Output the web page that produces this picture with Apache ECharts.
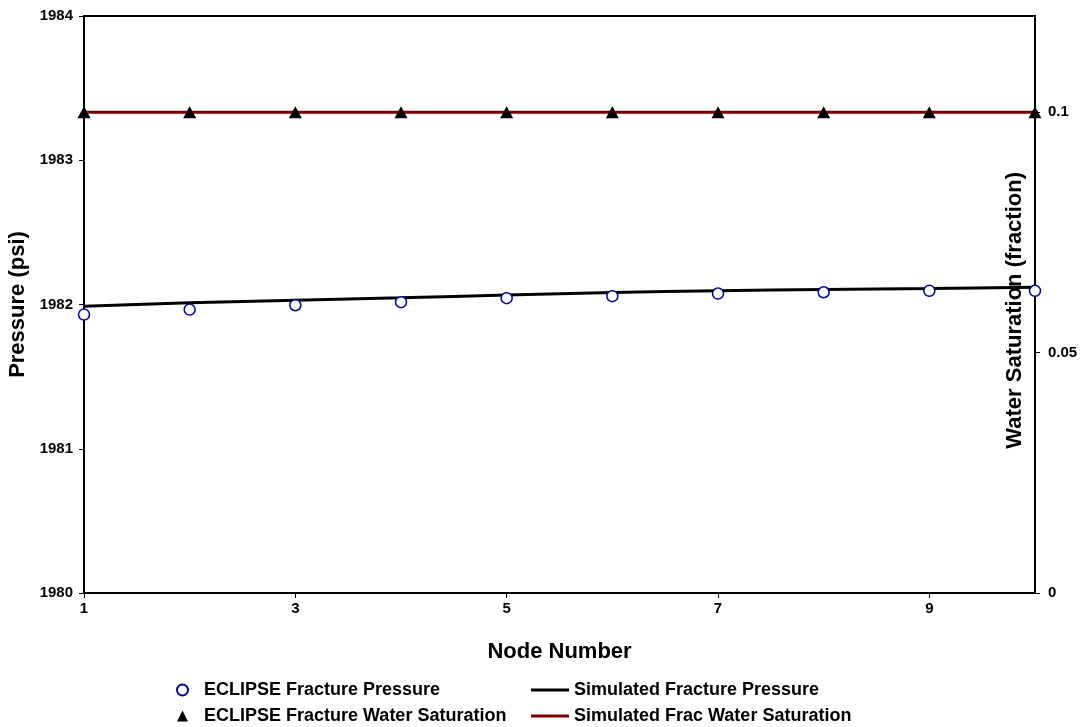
<!DOCTYPE html>
<html>
<head>
<meta charset="utf-8">
<script src="https://cdn.jsdelivr.net/npm/echarts@6/dist/echarts.min.js"></script>
<style>
  html, body { margin: 0; padding: 0; background: #fff; }
  #main { width: 1083px; height: 727px; }
</style>
</head>
<body>
<div id="main"></div>
<script>
// node numbers along the fracture
var nodes = ['1', '2', '3', '4', '5', '6', '7', '8', '9', '10'];
// pressure (psi)
var eclipsePressure = [1981.93, 1981.965, 1981.995, 1982.016, 1982.044, 1982.058, 1982.076, 1982.085, 1982.095, 1982.095];
var simPressure = [1981.988, 1982.012, 1982.03, 1982.046, 1982.065, 1982.083, 1982.095, 1982.104, 1982.111, 1982.12];
// water saturation (fraction)
var eclipseSw = [0.1, 0.1, 0.1, 0.1, 0.1, 0.1, 0.1, 0.1, 0.1, 0.1];
var simSw = [0.1, 0.1, 0.1, 0.1, 0.1, 0.1, 0.1, 0.1, 0.1, 0.1];

var font = 'Liberation Sans, Arial, sans-serif';
var myChart = echarts.init(document.getElementById('main'));

var legendText = { fontFamily: font, fontWeight: 'bold', fontSize: 18, color: '#000' };

myChart.setOption({
  animation: false,
  textStyle: { fontFamily: font },
  grid: {
    left: 84, right: 48, top: 16, bottom: 134,
    outerBoundsMode: 'none', containLabel: false,
    show: true, borderColor: '#000', borderWidth: 2
  },
  // right axis title sits inside the plot, next to the axis line
  graphic: [{
    type: 'text',
    left: 1004, top: 172,
    rotation: Math.PI / 2,
    style: {
      text: 'Water Saturation (fraction)',
      fill: '#000',
      font: 'bold 22px Liberation Sans, Arial, sans-serif'
    }
  }],
  legend: [
    {
      orient: 'vertical', left: 176, top: 681, padding: 0, itemGap: 8, height: 50,
      itemWidth: 11, itemHeight: 11,
      textStyle: Object.assign({ padding: [0, 0, 0, 11] }, legendText),
      data: ['ECLIPSE Fracture Pressure', 'ECLIPSE Fracture Water Saturation']
    },
    {
      orient: 'vertical', left: 531, top: 681, padding: 0, itemGap: 8, height: 50,
      itemWidth: 38, itemHeight: 3, icon: 'rect',
      textStyle: legendText,
      data: ['Simulated Fracture Pressure', 'Simulated Frac Water Saturation']
    }
  ],
  xAxis: {
    type: 'category',
    data: nodes,
    boundaryGap: false,
    name: 'Node Number',
    nameLocation: 'middle',
    nameGap: 48,
    nameTextStyle: { fontWeight: 'bold', fontSize: 22, color: '#000' },
    axisLine: { lineStyle: { color: '#000', width: 2 } },
    axisTick: { interval: 1, length: 5, lineStyle: { color: '#000' } },
    axisLabel: { interval: 1, fontWeight: 'bold', fontSize: 15, color: '#000', margin: 8 },
    splitLine: { show: false }
  },
  yAxis: [
    {
      type: 'value',
      min: 1980, max: 1984, interval: 1,
      name: 'Pressure (psi)',
      nameLocation: 'middle',
      nameGap: 52,
      nameTextStyle: { fontWeight: 'bold', fontSize: 22, color: '#000' },
      axisLine: { show: true, lineStyle: { color: '#000', width: 2 } },
      axisTick: { show: true, length: 5, lineStyle: { color: '#000' } },
      axisLabel: {
        fontWeight: 'bold', fontSize: 15, color: '#000', margin: 11,
        formatter: function (v) { return String(v); }
      },
      splitLine: { show: false }
    },
    {
      type: 'value',
      position: 'right',
      min: 0, max: 0.12, interval: 0.05,
      axisLine: { show: true, lineStyle: { color: '#000', width: 2 } },
      axisTick: { show: true, length: 5, lineStyle: { color: '#000' } },
      axisLabel: { showMaxLabel: false, fontWeight: 'bold', fontSize: 15, color: '#000', margin: 13 },
      splitLine: { show: false }
    }
  ],
  series: [
    {
      name: 'ECLIPSE Fracture Pressure',
      type: 'scatter',
      yAxisIndex: 0,
      data: eclipsePressure,
      symbol: 'circle',
      symbolSize: 11,
      itemStyle: { color: '#fff', borderColor: '#000099', borderWidth: 1.5, opacity: 1 },
      z: 5
    },
    {
      name: 'Simulated Fracture Pressure',
      type: 'line',
      yAxisIndex: 0,
      data: simPressure,
      smooth: 0.3,
      showSymbol: false,
      lineStyle: { color: '#000', width: 3 },
      itemStyle: { color: '#000' }
    },
    {
      name: 'ECLIPSE Fracture Water Saturation',
      type: 'scatter',
      yAxisIndex: 1,
      data: eclipseSw,
      symbol: 'triangle',
      symbolSize: [13, 12],
      itemStyle: { color: '#000', opacity: 1 },
      z: 5
    },
    {
      name: 'Simulated Frac Water Saturation',
      type: 'line',
      yAxisIndex: 1,
      data: simSw,
      showSymbol: false,
      lineStyle: { color: '#800000', width: 3 },
      itemStyle: { color: '#800000' }
    }
  ]
});
</script>
</body>
</html>
